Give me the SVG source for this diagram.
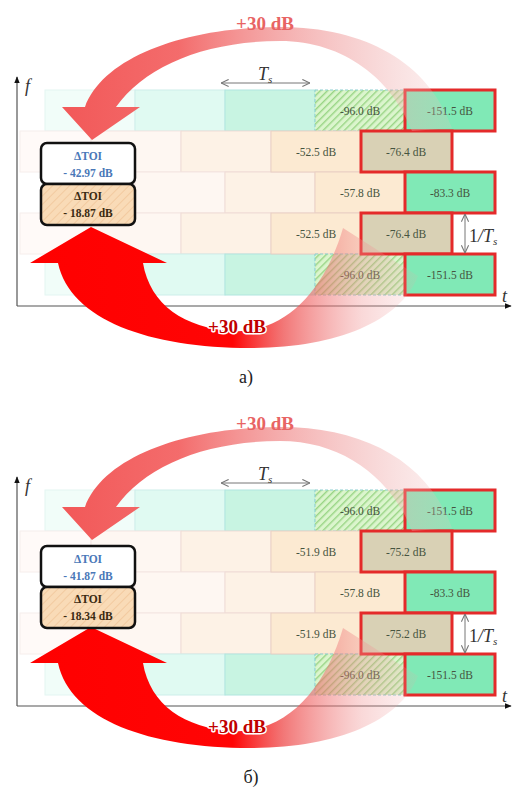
<svg xmlns="http://www.w3.org/2000/svg" width="513" height="789" viewBox="0 0 513 789">
<style>
.cy1{fill:#c8f4e2;stroke:#b0e6df;stroke-width:1}
.cy2{fill:#e0faf2;stroke:#cdeeea;stroke-width:1}
.cy3{fill:#f1fdf9;stroke:#e3f5f2;stroke-width:1}
.be1{fill:#fcead2;stroke:#e9cfc4;stroke-width:1}
.be2{fill:#fdf2e6;stroke:#efdcd6;stroke-width:1}
.be3{fill:#fef7f2;stroke:#f3e6e2;stroke-width:1}
.be4{fill:#fffaf8;stroke:#f6eeec;stroke-width:1}
.red{fill:#80e9b6;stroke:#e42a2a;stroke-width:3}
.tan{fill:#d9d1b5;stroke:#e42a2a;stroke-width:3}
.hat{fill:url(#hatch);stroke:#8ccfd0;stroke-width:1;stroke-dasharray:3 2}
.v{font-family:"Liberation Serif",serif;font-size:11.5px;fill:#465440;text-anchor:middle}
.box1{fill:#ffffff;stroke:#111;stroke-width:2.5}
.box2{fill:url(#peach);stroke:#111;stroke-width:2.5}
.bt1{font-family:"Liberation Serif",serif;font-size:11.5px;font-weight:bold;fill:#4a78b8;text-anchor:middle}
.bt2{font-family:"Liberation Serif",serif;font-size:11.5px;font-weight:bold;fill:#3a2a12;text-anchor:middle}
.axis{stroke:#555;stroke-width:1.2;fill:none}
.lbl{font-family:"Liberation Serif",serif;font-style:italic;font-size:18px;fill:#333}
.db1{font-family:"Liberation Serif",serif;font-weight:bold;font-size:19px;fill:#e86464;text-anchor:middle}
.db2{font-family:"Liberation Serif",serif;font-weight:bold;font-size:19px;fill:#c00000;text-anchor:middle;paint-order:stroke;stroke:#ffffff;stroke-width:3;stroke-linejoin:round}
.cap{font-family:"Liberation Serif",serif;font-size:18px;fill:#222;text-anchor:middle}
.dim{stroke:#777;stroke-width:1;fill:none}
.arrTop{fill:url(#gTop)}
.arrBot{fill:url(#gBot)}
</style>
<defs>
<pattern id="hatch" patternUnits="userSpaceOnUse" width="5" height="5" patternTransform="rotate(45)">
<rect width="5" height="5" fill="#dbf5cd"/>
<rect width="1.4" height="5" fill="#99d585"/>
</pattern>
<pattern id="peach" patternUnits="userSpaceOnUse" width="6" height="6" patternTransform="rotate(45)">
<rect width="6" height="6" fill="#f9dbb7"/>
<rect width="1" height="6" fill="#f2caa0"/>
</pattern>
<linearGradient id="gTop" gradientUnits="userSpaceOnUse" x1="60" y1="0" x2="455" y2="0">
<stop offset="0" stop-color="#f25858"/>
<stop offset="0.3" stop-color="#f36464" stop-opacity="0.95"/>
<stop offset="0.55" stop-color="#f08888" stop-opacity="0.7"/>
<stop offset="0.8" stop-color="#f0aaaa" stop-opacity="0.45"/>
<stop offset="1" stop-color="#f2c0c0" stop-opacity="0.2"/>
</linearGradient>
<linearGradient id="gBot" gradientUnits="userSpaceOnUse" x1="30" y1="0" x2="420" y2="0">
<stop offset="0" stop-color="#ff0000"/>
<stop offset="0.52" stop-color="#ff0505"/>
<stop offset="0.65" stop-color="#ee4a4a" stop-opacity="0.75"/>
<stop offset="0.85" stop-color="#f09090" stop-opacity="0.35"/>
<stop offset="1" stop-color="#f0a8a8" stop-opacity="0.12"/>
</linearGradient>
<marker id="axHead" viewBox="0 0 10 10" refX="9" refY="5" markerWidth="7" markerHeight="7" orient="auto-start-reverse" markerUnits="userSpaceOnUse">
<path d="M0,1 L10,5 L0,9 Z" fill="#111"/>
</marker>
<marker id="open" viewBox="0 0 10 10" refX="9.5" refY="5" markerWidth="9" markerHeight="9" orient="auto-start-reverse" markerUnits="userSpaceOnUse">
<path d="M1,1 L9.5,5 L1,9" fill="none" stroke="#777" stroke-width="1.2"/>
</marker>
</defs>
<rect width="513" height="789" fill="#ffffff"/>

<!-- ================= PANEL A ================= -->
<g id="panel-a">
<g id="a-axes">
<line class="axis" x1="17" y1="306" x2="17" y2="77" marker-end="url(#axHead)"/>
<line class="axis" x1="17" y1="306" x2="511" y2="306" marker-end="url(#axHead)"/>
<text class="lbl" x="25" y="92">f</text>
<text class="lbl" x="502" y="302">t</text>
</g>
<g id="a-row1">
<rect class="cy3" x="45" y="90" width="90" height="41"/>
<rect class="cy2" x="135" y="90" width="90" height="41"/>
<rect class="cy1" x="225" y="90" width="90" height="41"/>
</g>
<g id="a-row2">
<rect class="be4" x="20" y="131" width="71" height="41"/>
<rect class="be3" x="91" y="131" width="90" height="41"/>
<rect class="be2" x="181" y="131" width="90" height="41"/>
</g>
<g id="a-row3">
<rect class="be4" x="45" y="172" width="90" height="41"/>
<rect class="be3" x="135" y="172" width="90" height="41"/>
<rect class="be2" x="225" y="172" width="90" height="41"/>
</g>
<g id="a-row4">
<rect class="be4" x="20" y="213" width="71" height="41"/>
<rect class="be3" x="91" y="213" width="90" height="41"/>
<rect class="be2" x="181" y="213" width="90" height="41"/>
</g>
<g id="a-row5">
<rect class="cy3" x="45" y="254" width="90" height="41"/>
<rect class="cy2" x="135" y="254" width="90" height="41"/>
<rect class="cy1" x="225" y="254" width="90" height="41"/>
</g>
<g id="a-c1"><rect class="hat" x="315" y="90" width="90" height="41"/><text class="v" x="360" y="115">-96.0 dB</text></g>
<g id="a-c2"><rect class="be1" x="271" y="131" width="90" height="41"/><text class="v" x="316" y="156">-52.5 dB</text></g>
<g id="a-c3"><rect class="be1" x="315" y="172" width="90" height="41"/><text class="v" x="360" y="197">-57.8 dB</text></g>
<g id="a-c4"><rect class="be1" x="271" y="213" width="90" height="41"/><text class="v" x="316" y="238">-52.5 dB</text></g>
<g id="a-c5"><rect class="hat" x="315" y="254" width="90" height="41"/><text class="v" x="360" y="279">-96.0 dB</text></g>
<g id="a-r1"><rect class="red" x="405" y="90" width="90" height="41"/><text class="v" x="450" y="115">-151.5 dB</text></g>
<g id="a-r2"><rect class="tan" x="361" y="131" width="91" height="41"/><text class="v" x="406" y="156">-76.4 dB</text></g>
<g id="a-r3"><rect class="red" x="405" y="172" width="90" height="41"/><text class="v" x="450" y="197">-83.3 dB</text></g>
<g id="a-r4"><rect class="tan" x="361" y="213" width="91" height="41"/><text class="v" x="406" y="238">-76.4 dB</text></g>
<g id="a-r5"><rect class="red" x="405" y="254" width="90" height="41"/><text class="v" x="450" y="279">-151.5 dB</text></g>
<g id="a-dims">
<line class="dim" x1="221" y1="83" x2="310" y2="83" marker-start="url(#open)" marker-end="url(#open)"/>
<text class="lbl" x="258" y="80" font-size="17">T<tspan font-size="11" dy="3">s</tspan></text>
<line class="dim" x1="465" y1="214" x2="465" y2="253" marker-start="url(#open)" marker-end="url(#open)"/>
<text class="lbl" x="469" y="242" font-size="17"><tspan font-style="normal">1</tspan>/T<tspan font-size="11" dy="3">s</tspan></text>
</g>
<g id="a-connectors">
<path class="arrTop" d="M92 140 L62 107 L85 107 C103 57 185 27 280 27 C365 27 428 62 452 128 L412 131 C392 80 345 41 280 41 C205 41 145 66 116 107 L140 107 Z"/>
<path class="arrBot" d="M91 227 L167 263 L143 263 C150 305 185 328 232 331 C285 334 325 290 343 228 L418 276 C400 322 335 348 250 348 C150 348 70 320 58 263 L30 263 Z"/>
</g>
<g id="a-toi1"><rect class="box1" x="41" y="143" width="94" height="41" rx="6"/><text class="bt1" x="88" y="160">ΔTOI</text><text class="bt1" x="88" y="177">- 42.97 dB</text></g>
<g id="a-toi2"><rect class="box2" x="41" y="184" width="94" height="41" rx="6"/><text class="bt2" x="88" y="200">ΔTOI</text><text class="bt2" x="88" y="217">- 18.87 dB</text></g>
<text class="db1" x="265" y="30">+30 dB</text>
<text class="db2" x="237" y="333">+30 dB</text>
<text class="cap" x="246" y="383">а)</text>
</g>

<!-- ================= PANEL B ================= -->
<g id="panel-b" transform="translate(0,400)">
<g id="b-axes">
<line class="axis" x1="17" y1="306" x2="17" y2="77" marker-end="url(#axHead)"/>
<line class="axis" x1="17" y1="306" x2="511" y2="306" marker-end="url(#axHead)"/>
<text class="lbl" x="25" y="92">f</text>
<text class="lbl" x="502" y="302">t</text>
</g>
<g id="b-row1">
<rect class="cy3" x="45" y="90" width="90" height="41"/>
<rect class="cy2" x="135" y="90" width="90" height="41"/>
<rect class="cy1" x="225" y="90" width="90" height="41"/>
</g>
<g id="b-row2">
<rect class="be4" x="20" y="131" width="71" height="41"/>
<rect class="be3" x="91" y="131" width="90" height="41"/>
<rect class="be2" x="181" y="131" width="90" height="41"/>
</g>
<g id="b-row3">
<rect class="be4" x="45" y="172" width="90" height="41"/>
<rect class="be3" x="135" y="172" width="90" height="41"/>
<rect class="be2" x="225" y="172" width="90" height="41"/>
</g>
<g id="b-row4">
<rect class="be4" x="20" y="213" width="71" height="41"/>
<rect class="be3" x="91" y="213" width="90" height="41"/>
<rect class="be2" x="181" y="213" width="90" height="41"/>
</g>
<g id="b-row5">
<rect class="cy3" x="45" y="254" width="90" height="41"/>
<rect class="cy2" x="135" y="254" width="90" height="41"/>
<rect class="cy1" x="225" y="254" width="90" height="41"/>
</g>
<g id="b-c1"><rect class="hat" x="315" y="90" width="90" height="41"/><text class="v" x="360" y="115">-96.0 dB</text></g>
<g id="b-c2"><rect class="be1" x="271" y="131" width="90" height="41"/><text class="v" x="316" y="156">-51.9 dB</text></g>
<g id="b-c3"><rect class="be1" x="315" y="172" width="90" height="41"/><text class="v" x="360" y="197">-57.8 dB</text></g>
<g id="b-c4"><rect class="be1" x="271" y="213" width="90" height="41"/><text class="v" x="316" y="238">-51.9 dB</text></g>
<g id="b-c5"><rect class="hat" x="315" y="254" width="90" height="41"/><text class="v" x="360" y="279">-96.0 dB</text></g>
<g id="b-r1"><rect class="red" x="405" y="90" width="90" height="41"/><text class="v" x="450" y="115">-151.5 dB</text></g>
<g id="b-r2"><rect class="tan" x="361" y="131" width="91" height="41"/><text class="v" x="406" y="156">-75.2 dB</text></g>
<g id="b-r3"><rect class="red" x="405" y="172" width="90" height="41"/><text class="v" x="450" y="197">-83.3 dB</text></g>
<g id="b-r4"><rect class="tan" x="361" y="213" width="91" height="41"/><text class="v" x="406" y="238">-75.2 dB</text></g>
<g id="b-r5"><rect class="red" x="405" y="254" width="90" height="41"/><text class="v" x="450" y="279">-151.5 dB</text></g>
<g id="b-dims">
<line class="dim" x1="221" y1="83" x2="310" y2="83" marker-start="url(#open)" marker-end="url(#open)"/>
<text class="lbl" x="258" y="80" font-size="17">T<tspan font-size="11" dy="3">s</tspan></text>
<line class="dim" x1="465" y1="214" x2="465" y2="253" marker-start="url(#open)" marker-end="url(#open)"/>
<text class="lbl" x="469" y="242" font-size="17"><tspan font-style="normal">1</tspan>/T<tspan font-size="11" dy="3">s</tspan></text>
</g>
<g id="b-connectors">
<path class="arrTop" d="M92 140 L62 107 L85 107 C103 57 185 27 280 27 C365 27 428 62 452 128 L412 131 C392 80 345 41 280 41 C205 41 145 66 116 107 L140 107 Z"/>
<path class="arrBot" d="M91 227 L167 263 L143 263 C150 305 185 328 232 331 C285 334 325 290 343 228 L418 276 C400 322 335 348 250 348 C150 348 70 320 58 263 L30 263 Z"/>
</g>
<g id="b-toi1"><rect class="box1" x="41" y="146" width="94" height="41" rx="6"/><text class="bt1" x="88" y="163">ΔTOI</text><text class="bt1" x="88" y="180">- 41.87 dB</text></g>
<g id="b-toi2"><rect class="box2" x="41" y="187" width="94" height="41" rx="6"/><text class="bt2" x="88" y="203">ΔTOI</text><text class="bt2" x="88" y="220">- 18.34 dB</text></g>
<text class="db1" x="265" y="30">+30 dB</text>
<text class="db2" x="237" y="333">+30 dB</text>
<text class="cap" x="251" y="383">б)</text>
</g>
</svg>
